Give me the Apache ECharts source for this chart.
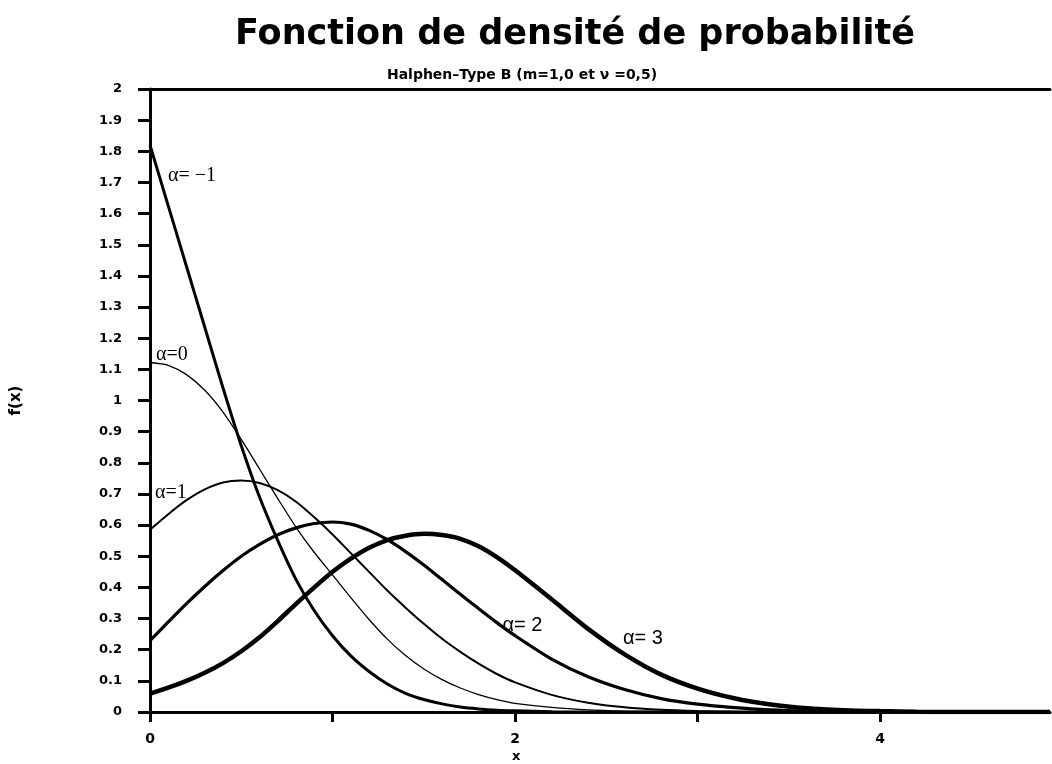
<!DOCTYPE html>
<html>
<head>
<meta charset="utf-8">
<script src="https://cdn.jsdelivr.net/npm/echarts@6/dist/echarts.min.js"></script>
<style>
  html, body { margin: 0; padding: 0; background: #fff; }
  #chart { width: 1052px; height: 764px; }
</style>
</head>
<body>
<div id="chart"></div>
<script>
const xs = [0, 0.1, 0.2, 0.3, 0.4, 0.5, 0.6, 0.7, 0.8, 0.9, 1.0, 1.1, 1.2, 1.3, 1.4, 1.5, 1.6, 1.7, 1.8, 1.9, 2.0,
            2.2, 2.4, 2.6, 2.8, 3.0, 3.2, 3.4, 3.6, 3.8, 4.0, 4.2, 4.4, 4.6, 4.8, 4.93];

// f(x) for each alpha
const alphaM1 = [1.82, 1.625, 1.43, 1.235, 1.04, 0.855, 0.69, 0.55, 0.425, 0.325, 0.245, 0.18, 0.13, 0.09, 0.06, 0.04, 0.026, 0.016, 0.01, 0.006, 0.004,
                 0.001, 0, 0, 0, 0, 0, 0, 0, 0, 0, 0, 0, 0, 0, 0];
const alpha0 = [1.122, 1.113, 1.083, 1.033, 0.963, 0.875, 0.78, 0.685, 0.593, 0.512, 0.44, 0.367, 0.297, 0.234, 0.181, 0.138, 0.104, 0.077, 0.056, 0.04, 0.028,
                0.015, 0.007, 0.003, 0.001, 0, 0, 0, 0, 0, 0, 0, 0, 0, 0, 0];
const alpha1 = [0.585, 0.635, 0.68, 0.715, 0.737, 0.743, 0.735, 0.712, 0.675, 0.625, 0.57, 0.51, 0.45, 0.39, 0.335, 0.283, 0.235, 0.193, 0.155, 0.122, 0.095,
                0.055, 0.03, 0.015, 0.007, 0.003, 0.001, 0, 0, 0, 0, 0, 0, 0, 0, 0];
const alpha2 = [0.229, 0.289, 0.348, 0.403, 0.454, 0.5, 0.538, 0.569, 0.591, 0.605, 0.61, 0.603, 0.583, 0.553, 0.515, 0.472, 0.425, 0.378, 0.332, 0.287, 0.245,
                0.17, 0.113, 0.072, 0.043, 0.025, 0.014, 0.007, 0.003, 0.001, 0, 0, 0, 0, 0, 0];
const alpha3 = [0.059, 0.078, 0.1, 0.126, 0.157, 0.195, 0.24, 0.292, 0.347, 0.4, 0.45, 0.492, 0.527, 0.552, 0.566, 0.572, 0.568, 0.556, 0.532, 0.497, 0.455,
                0.362, 0.267, 0.185, 0.12, 0.075, 0.044, 0.024, 0.012, 0.006, 0.003, 0.001, 0, 0, 0, 0];

// x axis ticks, and the ones that carry a label
const xTicks = [0, 1, 2, 3, 4];
const xTickLabels = [0, 2, 4];

function pairs(ys) {
    return xs.map((x, i) => [x, ys[i]]);
}

const chart = echarts.init(document.getElementById("chart"));

function curve(ys, width, labelText, labelAt, labelFont) {
    return {
        type: "line",
        data: pairs(ys),
        showSymbol: false,
        smooth: 0.25,
        lineStyle: { color: "#000", width: width },
        markPoint: {
            symbol: "circle",
            symbolSize: 0,
            data: [{
                coord: labelAt,
                label: {
                    show: true,
                    position: "inside",
                    formatter: labelText,
                    color: "#000",
                    fontFamily: labelFont,
                    fontSize: 20
                }
            }]
        }
    };
}

const option = {
    animation: false,
    backgroundColor: "#fff",
    title: [
        {
            text: "Fonction de densité de probabilité",
            left: 570,
            top: 12,
            textAlign: "center",
            textStyle: { fontFamily: "DejaVu Sans", fontSize: 35, fontWeight: "bold", color: "#000" }
        },
        {
            text: "Halphen\u2013Type B (m=1,0 et \u03bd =0,5)",
            left: 517,
            top: 63,
            textAlign: "center",
            textStyle: { fontFamily: "DejaVu Sans", fontSize: 14, fontWeight: "bold", color: "#000" }
        }
    ],
    grid: { left: 150, right: 2, top: 89, bottom: 52 },
    xAxis: [
        {
            type: "value",
            min: 0, max: 4.93, interval: 1,
            axisLine: { lineStyle: { color: "#000", width: 3 } },
            axisTick: { show: true, length: 10, customValues: xTicks, lineStyle: { color: "#000", width: 3 } },
            splitLine: { show: false },
            axisLabel: {
                margin: 20,
                customValues: xTickLabels,
                color: "#000",
                fontFamily: "DejaVu Sans",
                fontWeight: "bold",
                fontSize: 14
            }
        },
        {
            type: "value",
            position: "top",
            min: 0, max: 4.93,
            axisLine: { lineStyle: { color: "#000", width: 3 } },
            axisTick: { show: false },
            axisLabel: { show: false },
            splitLine: { show: false }
        }
    ],
    yAxis: {
        type: "value",
        min: 0, max: 2, interval: 0.1,
        name: "f(x)",
        nameLocation: "middle",
        nameGap: 126,
        nameTextStyle: { fontFamily: "DejaVu Sans", fontWeight: "bold", fontSize: 15, color: "#000" },
        axisLine: { lineStyle: { color: "#000", width: 3 } },
        axisTick: { show: true, length: 12, lineStyle: { color: "#000", width: 3 } },
        splitLine: { show: false },
        axisLabel: {
            margin: 28,
            color: "#000",
            fontFamily: "DejaVu Sans",
            fontWeight: "bold",
            fontSize: 13
        }
    },
    graphic: [
        {
            type: "text",
            left: 512,
            top: 750,
            style: { text: "x", fill: "#000", font: "bold 13px DejaVu Sans" }
        }
    ],
    series: [
        curve(alphaM1, 3, "\u03b1= \u22121", [0.23, 1.72], "Liberation Serif"),
        curve(alpha0, 1.3, "\u03b1=0", [0.12, 1.146], "Liberation Serif"),
        curve(alpha1, 2, "\u03b1=1", [0.115, 0.703], "Liberation Serif"),
        curve(alpha2, 3.2, "\u03b1= 2", [2.04, 0.279], "Liberation Sans"),
        curve(alpha3, 4.5, "\u03b1= 3", [2.7, 0.237], "Liberation Sans")
    ]
};

chart.setOption(option);
</script>
</body>
</html>
